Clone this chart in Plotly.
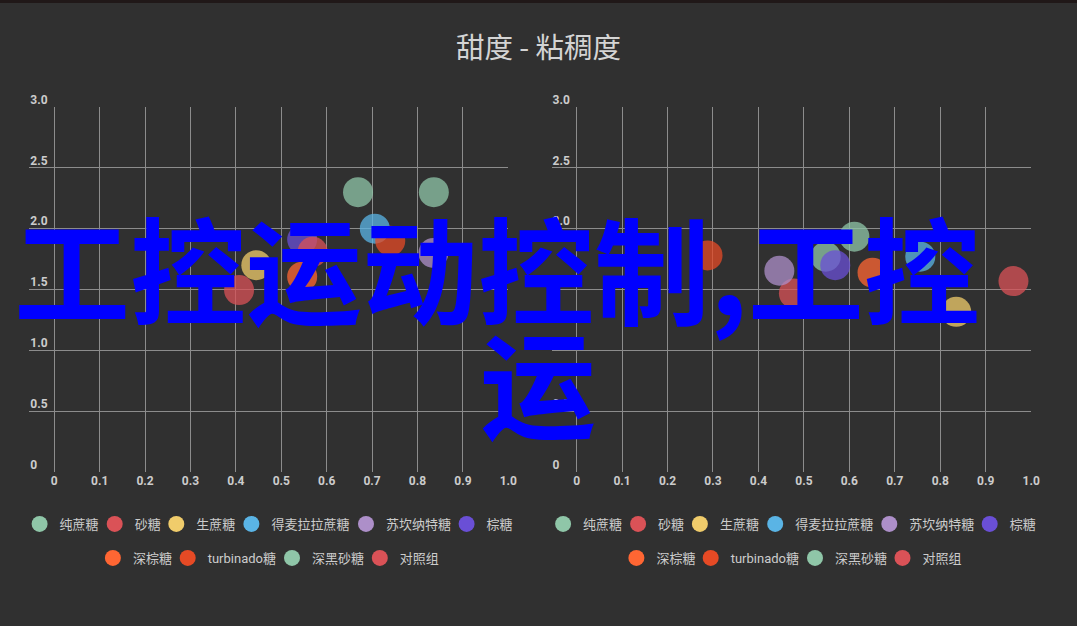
import plotly.graph_objects as go

# --- Dados ---
series = ["纯蔗糖", "砂糖", "生蔗糖", "得麦拉拉蔗糖", "苏坎纳特糖", "棕糖",
          "深棕糖", "turbinado糖", "深黑砂糖", "对照组"]
colors = ["#8fc6a8", "#da5257", "#f0cc6b", "#5ab4e5", "#ad8fc9", "#6a4fd6",
          "#ff6633", "#e64a25", "#8fc6a8", "#da5257"]

# gráfico da esquerda
left_x = [0.669, 0.407, 0.445, 0.706, 0.835, 0.546, 0.546, 0.740, 0.836, 0.569]
left_y = [2.30, 1.495, 1.70, 2.00, 1.80, 1.91, 1.605, 1.90, 2.30, 1.81]

# gráfico da direita
right_x = [0.548, 0.478, 0.835, 0.756, 0.446, 0.569, 0.651, 0.288, 0.611, 0.961]
right_y = [1.77, 1.468, 1.317, 1.77, 1.654, 1.70, 1.638, 1.78, 1.934, 1.569]

x_ticks = [0, 0.1, 0.2, 0.3, 0.4, 0.5, 0.6, 0.7, 0.8, 0.9, 1.0]
x_labels = ["0", "0.1", "0.2", "0.3", "0.4", "0.5", "0.6", "0.7", "0.8", "0.9", "1.0"]
y_ticks = [0, 0.5, 1.0, 1.5, 2.0, 2.5, 3.0]
y_labels = ["0", "0.5", "1.0", "1.5", "2.0", "2.5", "3.0"]

title_text = "甜度 - 粘稠度"
overlay_line1 = "工控运动控制,工控"
overlay_line2 = "运"

# --- Layout (pixels) ---
W, H = 1077, 626
BG = "#303030"
GRID = "#8c8c8c"
TEXT = "#cccccc"
CJK = "Noto Sans CJK SC"

# centro do círculo de cada item de legenda (px) e linha (px)
legend_cx_left = [39.6, 114.7, 176.3, 251.4, 366.0, 466.6, 112.9, 187.7, 292.0, 379.8]
legend_cx_right = [563.1, 638.1, 699.9, 775.2, 889.3, 989.7, 636.4, 710.7, 815.0, 902.5]
legend_row_y = [524, 558]


def px_x(p):
    return p / W


def px_y(p):
    return 1 - p / H


fig = go.Figure()
legend_layouts = {}
legend_common = dict(
    orientation="h", xanchor="left", yanchor="middle",
    bgcolor="rgba(0,0,0,0)", borderwidth=0,
    font=dict(family="Roboto, " + CJK, size=13, color=TEXT),
    itemclick=False, itemdoubleclick=False,
)

n = 0
for xs, ys, xa, ya, cxs in [
    (left_x, left_y, "x", "y", legend_cx_left),
    (right_x, right_y, "x2", "y2", legend_cx_right),
]:
    # pontos
    for i, name in enumerate(series):
        fig.add_trace(go.Scatter(
            x=[xs[i]], y=[ys[i]], mode="markers", name=name,
            xaxis=xa, yaxis=ya, showlegend=False, hoverinfo="skip",
            marker=dict(size=30, color=colors[i], opacity=0.75, line=dict(width=0)),
        ))
    # uma legenda por item, para posicionar igual à referência
    for i, name in enumerate(series):
        n += 1
        key = "legend" if n == 1 else f"legend{n}"
        fig.add_trace(go.Scatter(
            x=[None], y=[None], mode="markers", name=name,
            xaxis=xa, yaxis=ya, showlegend=True, legend=key,
            marker=dict(size=16, color=colors[i]),
        ))
        row = 0 if i < 6 else 1
        legend_layouts[key] = dict(x=px_x(cxs[i] - 20), y=px_y(legend_row_y[row]), **legend_common)

tick_font = dict(family="Roboto", size=12, color=TEXT, weight="bold")

xaxis_common = dict(
    range=[-0.055, 1.0], tickvals=x_ticks, ticktext=x_labels,
    showgrid=True, gridcolor=GRID, gridwidth=1, zeroline=False, showline=False,
    ticks="", tickfont=tick_font, fixedrange=True, automargin=False,
)
yaxis_common = dict(
    range=[0, 3.0], tickvals=y_ticks, ticktext=y_labels,
    showgrid=True, gridcolor=GRID, gridwidth=1, zeroline=False, showline=False,
    ticks="", ticklen=0, tickfont=tick_font, ticklabelposition="inside top",
    ticklabelstandoff=-2, ticklabelshift=1,
    ticklabeloverflow="allow", fixedrange=True, automargin=False,
)

fig.update_layout(
    width=W, height=H, autosize=False,
    margin=dict(l=0, r=0, t=0, b=0, pad=0),
    paper_bgcolor=BG, plot_bgcolor=BG,
    title=dict(text=title_text, x=0.5, xanchor="center", y=px_y(48), yanchor="middle",
               font=dict(family=CJK, size=28.5, color="#d4d4d4"), automargin=False),
    xaxis=dict(domain=[px_x(29.3), px_x(508.3)], anchor="y", **xaxis_common),
    yaxis=dict(domain=[px_y(472), px_y(107)], anchor="x", **yaxis_common),
    xaxis2=dict(domain=[px_x(551.6), px_x(1031.2)], anchor="y2", **xaxis_common),
    yaxis2=dict(domain=[px_y(472), px_y(107)], anchor="x2", **yaxis_common),
    shapes=[dict(type="rect", xref="paper", yref="paper", x0=0, x1=1,
                 y0=px_y(3), y1=1, fillcolor="#201818", line=dict(width=0), layer="above")],
    **legend_layouts,
)

# texto azul sobreposto
overlay_font = dict(family=CJK, size=116, color="#0000ff", weight="bold")
fig.add_annotation(text=overlay_line1, xref="paper", yref="paper",
                   x=px_x(497), y=px_y(265), xanchor="center", yanchor="middle",
                   showarrow=False, font=overlay_font)
fig.add_annotation(text=overlay_line2, xref="paper", yref="paper",
                   x=px_x(538), y=px_y(379), xanchor="center", yanchor="middle",
                   showarrow=False, font=overlay_font)

# sem margem no body, para a figura ocupar a janela toda
fig.write_html(
    "out.html",
    config={"displayModeBar": False},
    post_script="document.body.style.margin='0';document.body.style.overflow='hidden';",
)
